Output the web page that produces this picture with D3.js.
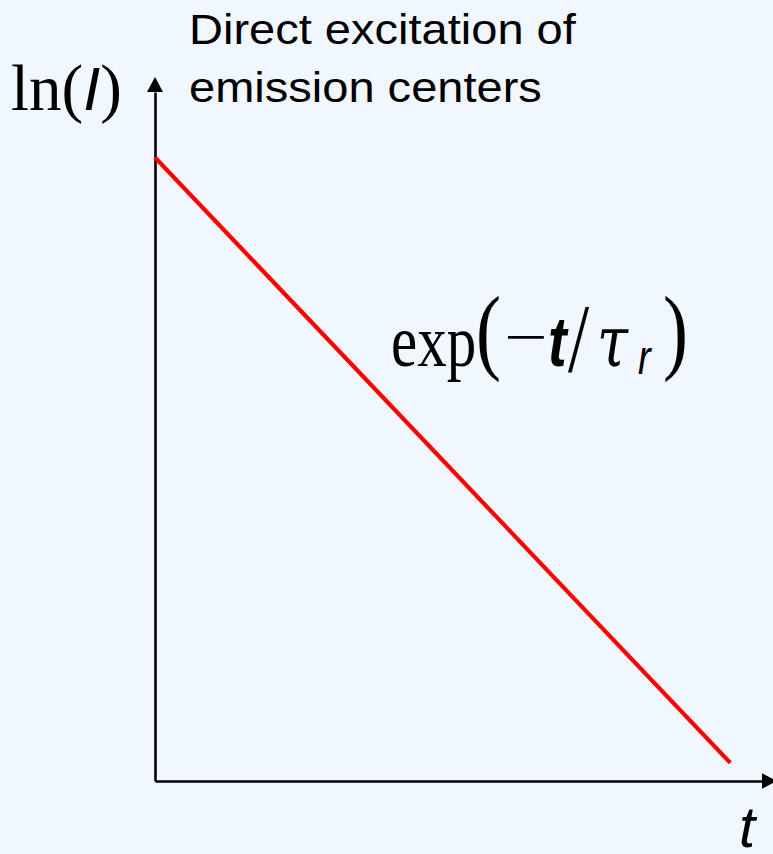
<!DOCTYPE html>
<html>
<head>
<meta charset="utf-8">
<script src="https://cdn.jsdelivr.net/npm/d3@7"></script>
<style>
  html, body { margin: 0; padding: 0; background: #F0F7FE; }
  svg { display: block; }
</style>
</head>
<body>
<script>
// Time axis (arbitrary units) and the log of the emitted intensity
const tValues = [0, 10];
const lnIValues = [10, 0.29];

// Axis extents (no tick marks are drawn on this schematic)
const tDomain = [0, 10.55];
const lnIDomain = [0, 11.05];
const tickValues = [];

const W = 773, H = 854;
const origin = { x: 155, y: 781 };
const axisEnd = { x: 762, y: 92 };

const svg = d3.select("body").append("svg")
  .attr("width", W).attr("height", H);

svg.append("rect").attr("width", W).attr("height", H).attr("fill", "#F0F7FE");

const x = d3.scaleLinear().domain(tDomain).range([origin.x, axisEnd.x]);
const y = d3.scaleLinear().domain(lnIDomain).range([origin.y, axisEnd.y]);

// Axes: plain lines with arrowheads
const xAxis = svg.append("g")
  .attr("transform", `translate(0,${origin.y})`)
  .call(d3.axisBottom(x).tickValues(tickValues).tickSizeOuter(0));
const yAxis = svg.append("g")
  .attr("transform", `translate(${origin.x},0)`)
  .call(d3.axisLeft(y).tickValues(tickValues).tickSizeOuter(0));
[xAxis, yAxis].forEach(g => g.select(".domain")
  .attr("stroke", "#000").attr("stroke-width", 2.6));

const x1 = x.range()[1], y1 = y.range()[1];
svg.append("path")
  .attr("d", `M${x1},${origin.y - 7.8}L${x1 + 15},${origin.y}L${x1},${origin.y + 7.8}Z`)
  .attr("fill", "#000");
svg.append("path")
  .attr("d", `M${origin.x - 8},${y1}L${origin.x},${y1 - 15}L${origin.x + 8},${y1}Z`)
  .attr("fill", "#000");

// Decay line
const line = d3.line().x(d => x(d[0])).y(d => y(d[1]));
svg.append("path")
  .datum(d3.zip(tValues, lnIValues))
  .attr("d", line)
  .attr("fill", "none")
  .attr("stroke", "#FF0000")
  .attr("stroke-width", 4.2);

// Axis labels
const serif = "'Liberation Serif', 'Times New Roman', serif";
const sans = "'Liberation Sans', Arial, sans-serif";

const yLabel = svg.append("text")
  .attr("x", 11).attr("y", 110)
  .attr("font-family", serif).attr("font-size", 65).attr("fill", "#000");
yLabel.append("tspan").text("ln(");
yLabel.append("tspan").attr("font-family", sans).attr("font-style", "italic")
  .attr("font-size", 61).text("I");
yLabel.append("tspan").text(")");

svg.append("text")
  .attr("x", 739).attr("y", 847)
  .attr("font-family", sans).attr("font-style", "italic").attr("font-size", 58)
  .attr("fill", "#000").text("t");

// Title
const title = svg.append("g").attr("transform", "translate(189,0) scale(1.12,1)");
["Direct excitation of", "emission centers"].forEach((s, i) => {
  title.append("text")
    .attr("x", 0).attr("y", 44 + i * 58)
    .attr("font-family", sans).attr("font-size", 42).attr("fill", "#000")
    .text(s);
});

// Equation exp(-t/τ_r)
const eq = svg.append("g").attr("transform", "translate(0,366) scale(1,1.27)");
const piece = (txt, px, py, family, size, style, weight, sx) =>
  eq.append("text")
    .attr("transform", `translate(${px},${py}) scale(${sx || 1},1)`)
    .attr("font-family", family).attr("font-size", size)
    .attr("font-style", style || "normal").attr("font-weight", weight || "normal")
    .attr("fill", "#000").text(txt);
piece("exp", 391, 0, serif, 59);
piece("(", 476, -3, serif, 75);
piece("\u2212", 504, -8, serif, 44, null, null, 1.75);
piece("t", 548, 0, sans, 56, "italic", "bold");
piece("/", 568, 4, serif, 76);
piece("\u03C4", 597, 0, "'DejaVu Serif', serif", 56, "italic");
piece("r", 638, 6, sans, 38, "italic");
piece(")", 663, -3, serif, 75);
</script>
</body>
</html>
